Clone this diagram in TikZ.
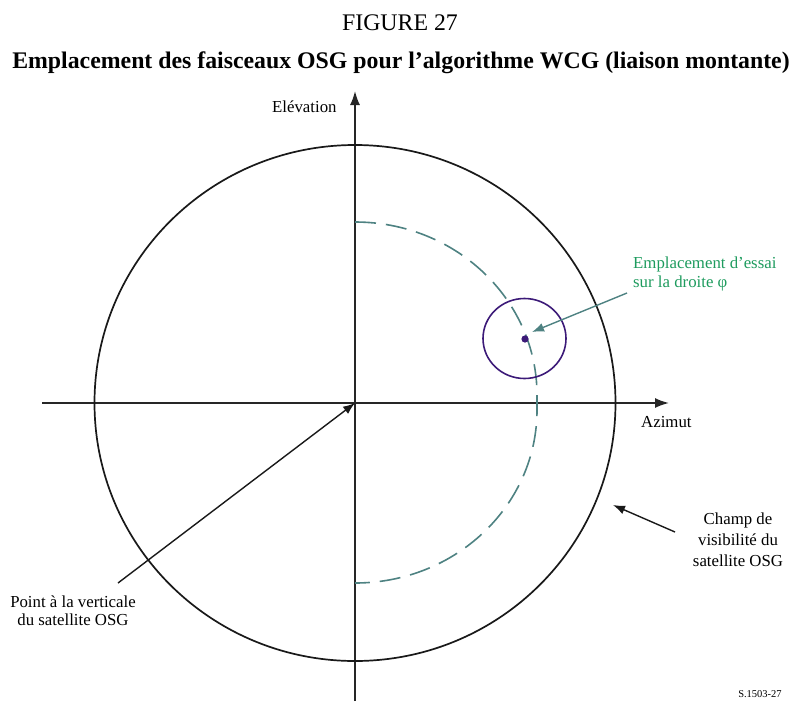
\documentclass[tikz,border=0pt]{standalone}
\usepackage{fontspec}
\setmainfont{Liberation Serif}
\usetikzlibrary{arrows.meta}
\definecolor{tealline}{HTML}{4E8282}
\definecolor{labelgreen}{HTML}{1E9B5E}
\definecolor{trialpurple}{HTML}{3C1A78}
\tikzset{
  axisline/.style={line width=1.7pt, draw=black!85},
  axisarrow/.style={axisline, -{Latex[length=14pt,width=10pt]}},
  pointer/.style={line width=1.4pt, -{Latex[length=12pt,width=9pt]}},
  label/.style={font=\fontsize{16.8}{19}\selectfont, align=center, inner sep=0pt},
  arcline/.style={line width=1.6pt, draw=tealline, dash pattern=on 21pt off 10pt},
}
\begin{document}
\begin{tikzpicture}[x=1pt,y=-1pt]
\useasboundingbox (0,0) rectangle (795,702);

% headings
\node[anchor=base, inner sep=0pt, font=\fontsize{23.8}{27}\selectfont] (fig) at (400,30) {FIGURE 27};
\node[anchor=base, inner sep=0pt, font=\fontsize{23.8}{27}\selectfont\bfseries] (title) at (401,68)
  {Emplacement des faisceaux OSG pour l'algorithme WCG (liaison montante)};

% axes
\coordinate (o) at (355,403);
\coordinate (ybot) at (355,701);
\coordinate (ytop) at (355,91);
\coordinate (xleft) at (42,403);
\coordinate (xright) at (669,403);
\draw[axisarrow] (ybot) -- (ytop);
\draw[axisarrow] (xleft) -- (xright);
\node[label, anchor=base west] (elev) at (272,112) {Elévation};
\node[label, anchor=base west] (azim) at (641,427) {Azimut};

% field of view of the satellite
\draw[line width=1.7pt, draw=black!90] (o) ellipse [x radius=260.5, y radius=258];

% locus of test positions
\coordinate (arctop) at (355,222);
\draw[arcline] (arctop) arc[start angle=-90, end angle=0, x radius=182, y radius=173]
  -- ++(0,15) arc[start angle=0, end angle=90, x radius=182, y radius=173];

% trial location
\coordinate (trial) at (525,339);
\draw[line width=1.6pt, draw=trialpurple] (524.5,338.5) ellipse [x radius=41.5, y radius=40];
\fill[trialpurple] (trial) circle (3.6);

% labels with pointers
\node[label, anchor=base west, align=left, text=labelgreen] (essai) at (633,287)
  {Emplacement d'essai\\sur la droite φ};
\coordinate (essaitail) at (627,293);
\coordinate (essaitip) at (532,332);
\draw[pointer, draw=tealline, fill=tealline] (essaitail) -- (essaitip);

\node[label, anchor=base, font=\fontsize{16.8}{21}\selectfont] (champ) at (738,566)
  {Champ de\\visibilité du\\satellite OSG};
\coordinate (champtail) at (675,532);
\coordinate (champtip) at (613,505);
\draw[pointer, draw=black!90] (champtail) -- (champtip);

\node[label, anchor=base, font=\fontsize{16.8}{18}\selectfont] (point) at (73,625)
  {Point à la verticale\\du satellite OSG};
\coordinate (pointtail) at (118,583);
\draw[pointer, draw=black!90] (pointtail) -- (o);

\node[anchor=base, inner sep=0pt, font=\fontsize{10.5}{12}\selectfont] (ref) at (760,697) {S.1503-27};
\end{tikzpicture}
\end{document}
